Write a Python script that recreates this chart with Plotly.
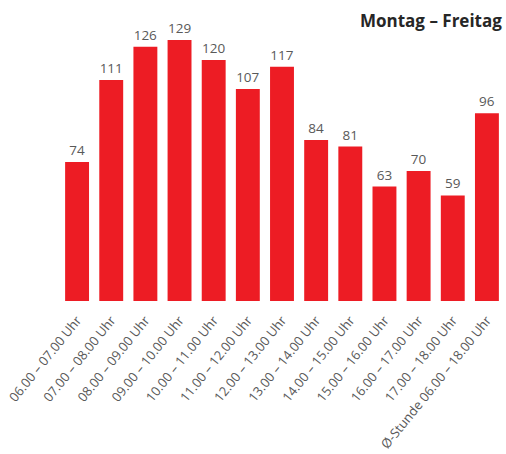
import plotly.graph_objects as go

categories = ["06.00 – 07.00 Uhr", "07.00 – 08.00 Uhr", "08.00 – 09.00 Uhr", "09.00 – 10.00 Uhr",
              "10.00 – 11.00 Uhr", "11.00 – 12.00 Uhr", "12.00 – 13.00 Uhr", "13.00 – 14.00 Uhr",
              "14.00 – 15.00 Uhr", "15.00 – 16.00 Uhr", "16.00 – 17.00 Uhr", "17.00 – 18.00 Uhr",
              "Ø-Stunde 06.00 – 18.00 Uhr"]
values = [74, 111, 126, 129, 120, 107, 117, 84, 81, 63, 70, 59, 96]
title_text = "Montag – Freitag"
y_min, y_max = 11.4, 140.3

top, bottom = 15, 153
plot_h = 454 - top - bottom

fig = go.Figure(go.Bar(
    x=categories, y=values,
    marker=dict(color="#ED1C24", line=dict(width=0)),
    text=[str(v) for v in values], textposition="outside", cliponaxis=True,
    textfont=dict(family="Open Sans, sans-serif", size=13.5, color="#595959"),
))

fig.update_layout(
    width=506, height=454,
    margin=dict(l=60, r=2, t=top, b=bottom),
    paper_bgcolor="white", plot_bgcolor="white",
    bargap=0.3, showlegend=False,
    font=dict(family="Open Sans, sans-serif", color="#595959"),
    annotations=[dict(text="<b>" + title_text + "</b>", x=1, xref="paper", xanchor="right",
                      y=1 + (top - 20) / plot_h, yref="paper", yanchor="middle", showarrow=False,
                      font=dict(size=17, color="#262626", family="Open Sans, sans-serif"))],
    xaxis=dict(tickangle=-51, tickfont=dict(size=13, color="#595959"), showline=False,
               ticks="", automargin=False, ticklabelstandoff=8),
    yaxis=dict(visible=False, range=[y_min, y_max], showgrid=False, automargin=False),
)
fig.write_html("out.html", config={"displayModeBar": False},
               post_script="document.body.style.margin='0';document.body.style.padding='0';")
